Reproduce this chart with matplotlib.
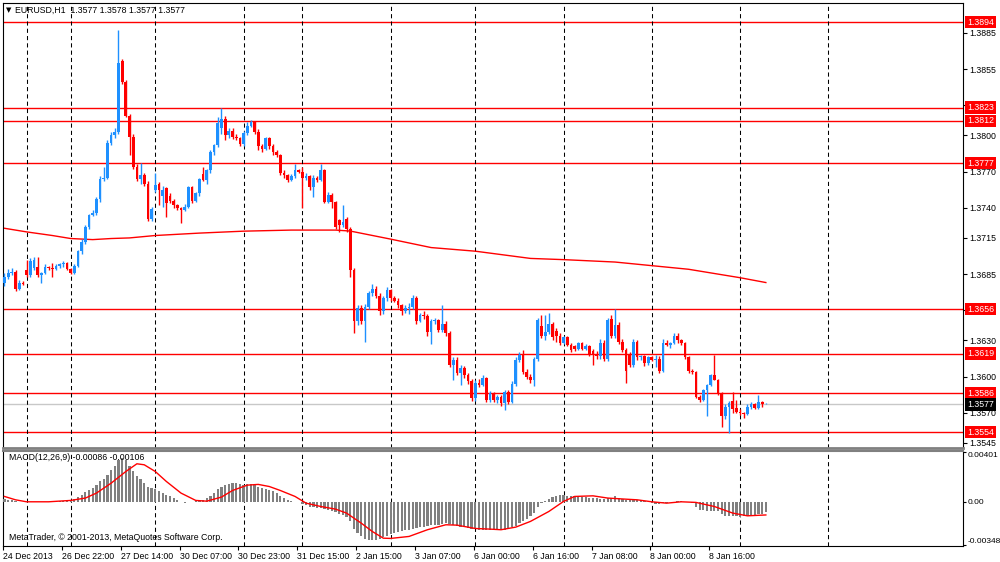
import matplotlib
matplotlib.use("Agg")
import matplotlib.pyplot as plt
import matplotlib.transforms as mtransforms
import numpy as np

plt.rcParams["font.family"] = ["Liberation Sans", "DejaVu Sans"]

SYMBOL = "EURUSD,H1"
LAST_OHLC = [1.3577, 1.3578, 1.3577, 1.3577]

# hourly candles, one per bar, left to right (24 Dec 2013 .. 9 Jan 2014)
OPEN = [
    1.3678, 1.3683, 1.3686, 1.3687, 1.3673, 1.3678, 1.3688, 1.3684, 1.3690, 1.3691,
    1.3684, 1.3686, 1.3691, 1.3690, 1.3689, 1.3692, 1.3693, 1.3694, 1.3689, 1.3686,
    1.3692, 1.3704, 1.3712, 1.3724, 1.3734, 1.3736, 1.3747, 1.3764, 1.3765, 1.3794,
    1.3800, 1.3803, 1.3862, 1.3844, 1.3816, 1.3799, 1.3774, 1.3764, 1.3767, 1.3760,
    1.3731, 1.3755, 1.3760, 1.3750, 1.3756, 1.3750, 1.3746, 1.3742, 1.3740, 1.3738,
    1.3741, 1.3757, 1.3746, 1.3752, 1.3768, 1.3763, 1.3771, 1.3786, 1.3792, 1.3806,
    1.3814, 1.3800, 1.3804, 1.3799, 1.3798, 1.3793, 1.3802, 1.3808, 1.3811, 1.3803,
    1.3791, 1.3789, 1.3798, 1.3791, 1.3786, 1.3784, 1.3769, 1.3767, 1.3763, 1.3766,
    1.3771, 1.3770, 1.3765, 1.3766, 1.3757, 1.3765, 1.3763, 1.3771, 1.3745, 1.3751,
    1.3745, 1.3730, 1.3726, 1.3731, 1.3722, 1.3688, 1.3646, 1.3657, 1.3646, 1.3658,
    1.3669, 1.3673, 1.3667, 1.3654, 1.3665, 1.3672, 1.3665, 1.3663, 1.3659, 1.3654,
    1.3657, 1.3658, 1.3665, 1.3646, 1.3651, 1.3650, 1.3637, 1.3646, 1.3647, 1.3639,
    1.3644, 1.3636, 1.3610, 1.3614, 1.3603, 1.3607, 1.3601, 1.3596, 1.3582, 1.3595,
    1.3593, 1.3599, 1.3581, 1.3586, 1.3581, 1.3583, 1.3578, 1.3587, 1.3579, 1.3594,
    1.3614, 1.3618, 1.3604, 1.3600, 1.3597, 1.3615, 1.3642, 1.3634, 1.3637, 1.3644,
    1.3638, 1.3634, 1.3628, 1.3633, 1.3626, 1.3625, 1.3623, 1.3628, 1.3623, 1.3625,
    1.3621, 1.3618, 1.3617, 1.3628, 1.3615, 1.3648, 1.3634, 1.3643, 1.3629, 1.3622,
    1.3618, 1.3610, 1.3629, 1.3616, 1.3617, 1.3611, 1.3616, 1.3614, 1.3615, 1.3605,
    1.3628, 1.3626, 1.3628, 1.3634, 1.3630, 1.3628, 1.3616, 1.3605, 1.3604, 1.3583,
    1.3581, 1.3589, 1.3593, 1.3601, 1.3597, 1.3586, 1.3567, 1.3575, 1.3580, 1.3574,
    1.3571, 1.3570, 1.3569, 1.3575, 1.3577, 1.3574, 1.3579, 1.3577,
]
HIGH = [
    1.3686, 1.3689, 1.3690, 1.3688, 1.3680, 1.3679, 1.3697, 1.3698, 1.3699, 1.3699,
    1.3687, 1.3693, 1.3692, 1.3694, 1.3693, 1.3694, 1.3696, 1.3695, 1.3690, 1.3693,
    1.3705, 1.3714, 1.3726, 1.3735, 1.3738, 1.3749, 1.3766, 1.3774, 1.3796, 1.3803,
    1.3806, 1.3887, 1.3863, 1.3846, 1.3818, 1.3801, 1.3776, 1.3777, 1.3769, 1.3762,
    1.3741, 1.3769, 1.3761, 1.3758, 1.3757, 1.3752, 1.3747, 1.3743, 1.3741, 1.3743,
    1.3758, 1.3758, 1.3753, 1.3765, 1.3774, 1.3772, 1.3788, 1.3793, 1.3815, 1.3823,
    1.3816, 1.3806, 1.3806, 1.3801, 1.3799, 1.3804, 1.3811, 1.3813, 1.3812, 1.3805,
    1.3793, 1.3799, 1.3799, 1.3793, 1.3788, 1.3785, 1.3771, 1.3768, 1.3768, 1.3776,
    1.3772, 1.3774, 1.3769, 1.3767, 1.3767, 1.3766, 1.3776, 1.3772, 1.3753, 1.3752,
    1.3746, 1.3731, 1.3742, 1.3732, 1.3724, 1.3690, 1.3659, 1.3659, 1.3660, 1.3671,
    1.3677, 1.3675, 1.3669, 1.3667, 1.3674, 1.3673, 1.3667, 1.3665, 1.3660, 1.3659,
    1.3661, 1.3668, 1.3667, 1.3653, 1.3654, 1.3652, 1.3648, 1.3649, 1.3648, 1.3659,
    1.3646, 1.3638, 1.3616, 1.3616, 1.3610, 1.3609, 1.3603, 1.3598, 1.3597, 1.3598,
    1.3601, 1.3600, 1.3588, 1.3587, 1.3585, 1.3585, 1.3589, 1.3589, 1.3596, 1.3616,
    1.3620, 1.3622, 1.3606, 1.3602, 1.3616, 1.3649, 1.3651, 1.3651, 1.3653, 1.3645,
    1.3640, 1.3636, 1.3634, 1.3634, 1.3628, 1.3626, 1.3629, 1.3629, 1.3627, 1.3626,
    1.3623, 1.3621, 1.3631, 1.3630, 1.3649, 1.3651, 1.3656, 1.3645, 1.3631, 1.3624,
    1.3620, 1.3631, 1.3630, 1.3618, 1.3618, 1.3617, 1.3617, 1.3618, 1.3617, 1.3631,
    1.3630, 1.3629, 1.3636, 1.3636, 1.3631, 1.3629, 1.3617, 1.3606, 1.3605, 1.3585,
    1.3590, 1.3594, 1.3602, 1.3618, 1.3598, 1.3587, 1.3577, 1.3580, 1.3587, 1.3581,
    1.3573, 1.3571, 1.3577, 1.3579, 1.3578, 1.3585, 1.3580, 1.3578,
]
LOW = [
    1.3675, 1.3681, 1.3684, 1.3671, 1.3672, 1.3676, 1.3683, 1.3683, 1.3688, 1.3683,
    1.3678, 1.3685, 1.3688, 1.3683, 1.3688, 1.3690, 1.3691, 1.3688, 1.3685, 1.3685,
    1.3691, 1.3702, 1.3710, 1.3722, 1.3733, 1.3734, 1.3745, 1.3762, 1.3764, 1.3792,
    1.3798, 1.3801, 1.3843, 1.3815, 1.3784, 1.3772, 1.3762, 1.3760, 1.3758, 1.3729,
    1.3729, 1.3753, 1.3742, 1.3741, 1.3732, 1.3744, 1.3740, 1.3738, 1.3727, 1.3737,
    1.3740, 1.3744, 1.3745, 1.3750, 1.3762, 1.3760, 1.3769, 1.3784, 1.3790, 1.3801,
    1.3796, 1.3798, 1.3797, 1.3796, 1.3791, 1.3791, 1.3800, 1.3807, 1.3801, 1.3788,
    1.3786, 1.3788, 1.3789, 1.3784, 1.3782, 1.3767, 1.3765, 1.3761, 1.3762, 1.3765,
    1.3769, 1.3740, 1.3763, 1.3755, 1.3749, 1.3761, 1.3762, 1.3744, 1.3744, 1.3740,
    1.3722, 1.3720, 1.3724, 1.3720, 1.3683, 1.3636, 1.3643, 1.3644, 1.3629, 1.3656,
    1.3667, 1.3665, 1.3651, 1.3652, 1.3663, 1.3663, 1.3662, 1.3657, 1.3651, 1.3653,
    1.3652, 1.3656, 1.3644, 1.3645, 1.3648, 1.3634, 1.3627, 1.3644, 1.3637, 1.3637,
    1.3634, 1.3608, 1.3597, 1.3601, 1.3593, 1.3599, 1.3594, 1.3580, 1.3580, 1.3591,
    1.3592, 1.3579, 1.3579, 1.3579, 1.3578, 1.3576, 1.3572, 1.3577, 1.3578, 1.3592,
    1.3612, 1.3602, 1.3598, 1.3595, 1.3592, 1.3613, 1.3632, 1.3630, 1.3635, 1.3630,
    1.3629, 1.3626, 1.3627, 1.3625, 1.3620, 1.3621, 1.3622, 1.3622, 1.3622, 1.3617,
    1.3610, 1.3615, 1.3615, 1.3613, 1.3613, 1.3632, 1.3632, 1.3627, 1.3620, 1.3595,
    1.3608, 1.3608, 1.3614, 1.3614, 1.3609, 1.3610, 1.3613, 1.3608, 1.3603, 1.3604,
    1.3625, 1.3624, 1.3627, 1.3628, 1.3626, 1.3615, 1.3603, 1.3602, 1.3582, 1.3579,
    1.3580, 1.3567, 1.3592, 1.3597, 1.3585, 1.3558, 1.3565, 1.3553, 1.3570, 1.3570,
    1.3568, 1.3566, 1.3568, 1.3573, 1.3573, 1.3573, 1.3575, 1.3577,
]
CLOSE = [
    1.3683, 1.3686, 1.3687, 1.3673, 1.3678, 1.3677, 1.3684, 1.3696, 1.3697, 1.3684,
    1.3686, 1.3691, 1.3690, 1.3689, 1.3692, 1.3693, 1.3694, 1.3689, 1.3686, 1.3692,
    1.3704, 1.3712, 1.3724, 1.3734, 1.3736, 1.3747, 1.3764, 1.3765, 1.3794, 1.3800,
    1.3803, 1.3860, 1.3844, 1.3816, 1.3799, 1.3774, 1.3764, 1.3767, 1.3760, 1.3731,
    1.3739, 1.3759, 1.3755, 1.3755, 1.3744, 1.3746, 1.3742, 1.3740, 1.3738, 1.3741,
    1.3757, 1.3746, 1.3752, 1.3764, 1.3763, 1.3771, 1.3786, 1.3792, 1.3810, 1.3814,
    1.3800, 1.3804, 1.3799, 1.3798, 1.3793, 1.3802, 1.3808, 1.3811, 1.3803, 1.3791,
    1.3789, 1.3798, 1.3791, 1.3786, 1.3784, 1.3769, 1.3767, 1.3763, 1.3766, 1.3771,
    1.3770, 1.3765, 1.3766, 1.3757, 1.3765, 1.3763, 1.3771, 1.3745, 1.3751, 1.3745,
    1.3724, 1.3726, 1.3728, 1.3722, 1.3688, 1.3646, 1.3657, 1.3646, 1.3658, 1.3669,
    1.3673, 1.3667, 1.3654, 1.3665, 1.3672, 1.3665, 1.3663, 1.3659, 1.3654, 1.3657,
    1.3658, 1.3665, 1.3646, 1.3651, 1.3650, 1.3637, 1.3646, 1.3647, 1.3639, 1.3644,
    1.3636, 1.3610, 1.3614, 1.3603, 1.3607, 1.3601, 1.3596, 1.3582, 1.3595, 1.3593,
    1.3599, 1.3581, 1.3586, 1.3581, 1.3583, 1.3578, 1.3587, 1.3579, 1.3594, 1.3614,
    1.3618, 1.3604, 1.3600, 1.3597, 1.3615, 1.3647, 1.3634, 1.3637, 1.3644, 1.3633,
    1.3634, 1.3628, 1.3633, 1.3626, 1.3622, 1.3623, 1.3628, 1.3623, 1.3625, 1.3619,
    1.3618, 1.3617, 1.3628, 1.3615, 1.3647, 1.3634, 1.3643, 1.3629, 1.3622, 1.3605,
    1.3610, 1.3629, 1.3616, 1.3617, 1.3611, 1.3616, 1.3614, 1.3615, 1.3605, 1.3628,
    1.3626, 1.3628, 1.3634, 1.3630, 1.3628, 1.3616, 1.3605, 1.3604, 1.3583, 1.3581,
    1.3589, 1.3593, 1.3601, 1.3597, 1.3586, 1.3567, 1.3575, 1.3578, 1.3573, 1.3571,
    1.3570, 1.3569, 1.3575, 1.3577, 1.3574, 1.3579, 1.3577, 1.3577,
]

# long moving average (red line), read at these bars
MA_BARS = [0, 6, 13, 18, 24, 29, 34, 41, 53, 65, 78, 90, 94, 105, 116, 128,
           143, 152, 166, 176, 186, 200, 207]
MA_VALUES = [1.3723, 1.3720, 1.3717, 1.37145, 1.37136, 1.37145, 1.3715, 1.3717,
             1.3719, 1.37206, 1.37215, 1.37215, 1.37207, 1.3714, 1.3707, 1.3704,
             1.3698, 1.3697, 1.3695, 1.3692, 1.3689, 1.3682, 1.3678]

LEVELS = [1.3894, 1.3823, 1.3812, 1.3777, 1.3656, 1.3619, 1.3586, 1.3554]
PRICE_TICKS = [1.3885, 1.3855, 1.3825, 1.3800, 1.3770, 1.3740, 1.3715, 1.3685,
               1.3655, 1.3630, 1.3600, 1.3570, 1.3545]

# first bar of each day (period separators)
DAY_STARTS = [6, 18, 41, 65, 81, 105, 128, 152, 176, 200, 224]

TIME_TICK_BARS = [0, 16, 32, 48, 64, 80, 96, 112, 128, 144, 160, 176, 192]
TIME_LABELS = ["24 Dec 2013", "26 Dec 22:00", "27 Dec 14:00", "30 Dec 07:00",
               "30 Dec 23:00", "31 Dec 15:00", "2 Jan 15:00", "3 Jan 07:00",
               "6 Jan 00:00", "6 Jan 16:00", "7 Jan 08:00", "8 Jan 00:00",
               "8 Jan 16:00"]

MACD_HIST = [
    0.00020, 0.00016, 0.00012, 0.00006, 0.00002, 0.00000, -0.00002, -0.00001, 0.00000, -0.00002,
    -0.00003, -0.00002, 0.00000, 0.00003, 0.00006, 0.00008, 0.00010, 0.00011, 0.00016, 0.00021,
    0.00038, 0.00056, 0.00075, 0.00091, 0.00110, 0.00137, 0.00164, 0.00183, 0.00217, 0.00252,
    0.00290, 0.00338, 0.00352, 0.00333, 0.00290, 0.00244, 0.00209, 0.00183, 0.00150, 0.00123,
    0.00110, 0.00102, 0.00083, 0.00070, 0.00056, 0.00043, 0.00030, 0.00016, 0.00000, -0.00011,
    -0.00005, -0.00003, 0.00003, 0.00011, 0.00016, 0.00027, 0.00048, 0.00070, 0.00102, 0.00123,
    0.00137, 0.00145, 0.00150, 0.00150, 0.00145, 0.00137, 0.00140, 0.00142, 0.00134, 0.00123,
    0.00110, 0.00102, 0.00097, 0.00083, 0.00070, 0.00048, 0.00030, 0.00016, 0.00003, 0.00000,
    -0.00005, -0.00019, -0.00027, -0.00038, -0.00043, -0.00048, -0.00051, -0.00059, -0.00070, -0.00078,
    -0.00086, -0.00097, -0.00105, -0.00124, -0.00158, -0.00220, -0.00252, -0.00279, -0.00301, -0.00311,
    -0.00311, -0.00306, -0.00301, -0.00287, -0.00274, -0.00263, -0.00252, -0.00247, -0.00239, -0.00231,
    -0.00225, -0.00220, -0.00215, -0.00204, -0.00199, -0.00193, -0.00188, -0.00185, -0.00183, -0.00177,
    -0.00172, -0.00177, -0.00188, -0.00193, -0.00199, -0.00204, -0.00209, -0.00217, -0.00220, -0.00225,
    -0.00225, -0.00228, -0.00231, -0.00231, -0.00231, -0.00231, -0.00225, -0.00220, -0.00204, -0.00193,
    -0.00172, -0.00158, -0.00140, -0.00113, -0.00091, -0.00038, -0.00011, 0.00003, 0.00021, 0.00038,
    0.00048, 0.00054, 0.00054, 0.00048, 0.00048, 0.00043, 0.00043, 0.00038, 0.00038, 0.00032,
    0.00027, 0.00027, 0.00021, 0.00021, 0.00027, 0.00032, 0.00043, 0.00032, 0.00021, 0.00011,
    0.00011, 0.00016, 0.00011, 0.00011, 0.00005, 0.00000, -0.00011, -0.00016, -0.00021, -0.00011,
    -0.00011, -0.00005, 0.00000, 0.00005, 0.00008, 0.00000, -0.00005, -0.00011, -0.00038, -0.00064,
    -0.00070, -0.00078, -0.00078, -0.00073, -0.00078, -0.00097, -0.00113, -0.00118, -0.00118, -0.00118,
    -0.00124, -0.00118, -0.00113, -0.00107, -0.00105, -0.00102, -0.00097, -0.00086,
]

SIGNAL_BARS = [0, 3, 6, 12, 18, 22, 25, 29, 33, 36, 38, 41, 44, 48, 52, 55, 59, 62,
               66, 69, 72, 75, 79, 82, 86, 90, 93, 97, 100, 103, 105, 110, 115, 120,
               123, 128, 132, 135, 139, 143, 148, 152, 155, 160, 164, 169, 172, 176,
               180, 184, 188, 193, 198, 202, 207]
SIGNAL_VALUES = [0.00043, 0.00016, 0.0, 0.0, 0.00011, 0.00030, 0.00070, 0.00150,
                 0.00244, 0.00306, 0.00298, 0.00244, 0.00164, 0.00070, 0.00011,
                 0.00005, 0.00038, 0.00091, 0.00134, 0.00140, 0.00123, 0.00091,
                 0.00043, -0.00011, -0.00038, -0.00059, -0.00091, -0.00172, -0.00239,
                 -0.00293, -0.00295, -0.00279, -0.00225, -0.00185, -0.00188, -0.00215,
                 -0.00220, -0.00225, -0.00204, -0.00158, -0.00078, 0.00003, 0.00043,
                 0.00048, 0.00030, 0.00021, 0.00016, 0.0, -0.00011, 0.0, -0.00005,
                 -0.00038, -0.00091, -0.00113, -0.00106]

MACD_MAIN_LAST = -0.00086
MACD_SIGNAL_LAST = -0.00106
MACD_SCALE = [0.00401, 0.0, -0.00348]

BULL = "#1E90FF"
BEAR = "#FF0000"
FS = 6.3
W, H = 1000, 562

fig = plt.figure(figsize=(W / 100, H / 100), dpi=100)
ax = fig.add_axes([3 / W, 1 - 448 / H, 960 / W, 445 / H])
axm = fig.add_axes([3 / W, 1 - 546 / H, 960 / W, 95 / H], sharex=ax)

o, h, l, c = (np.array(a) for a in (OPEN, HIGH, LOW, CLOSE))
bars = np.arange(len(c))
col = np.where(c >= o, BULL, BEAR)

# ---- price panel ----
for lvl in LEVELS:
    ax.axhline(lvl, color="red", lw=1, zorder=1)
ax.axhline(LAST_OHLC[3], color="#C8C8C8", lw=1, zorder=1)
for d in DAY_STARTS:
    ax.axvline(d, color="black", lw=0.75, ls=(0, (4, 3)), zorder=1)
    axm.axvline(d, color="black", lw=0.75, ls=(0, (4, 3)), zorder=1)

ax.vlines(bars, l, h, colors=col, lw=1, zorder=3)
ax.bar(bars, np.maximum(np.abs(c - o), 0.00003), bottom=np.minimum(o, c),
       width=0.74, color=col, lw=0, zorder=3)
ax.plot(MA_BARS, MA_VALUES, color="red", lw=1, zorder=2)

ax.set_xlim(-0.3, 260.6)
ax.set_ylim(1.35408, 1.39098)
ax.yaxis.tick_right()
ax.set_yticks(PRICE_TICKS)
ax.set_yticklabels([f"{v:.4f}" for v in PRICE_TICKS])
ax.tick_params(axis="y", direction="out", length=3, width=0.8, pad=1.5, labelsize=FS)
ax.tick_params(axis="x", bottom=False, labelbottom=False)
for s in ax.spines.values():
    s.set_color("black")
    s.set_linewidth(0.8)
ax.spines["bottom"].set_color("#808080")
ax.spines["bottom"].set_linewidth(2)

blend = mtransforms.blended_transform_factory(ax.transAxes, ax.transData)
box_x = 1.0 + 4 / 960
for lvl in LEVELS:
    ax.text(box_x, lvl, f"{lvl:.4f}", transform=blend, color="white", fontsize=FS,
            ha="left", va="center", zorder=10, clip_on=False,
            bbox=dict(boxstyle="square,pad=0.2", fc="red", ec="none"))
ax.text(box_x, LAST_OHLC[3], f"{LAST_OHLC[3]:.4f}", transform=blend, color="white",
        fontsize=FS, ha="left", va="center", zorder=11, clip_on=False,
        bbox=dict(boxstyle="square,pad=0.2", fc="black", ec="none"))

fig.text(6 / W, 1 - 10 / H, "\u25BC", fontsize=5, va="center", ha="left",
         family=["DejaVu Sans"])
fig.text(15 / W, 1 - 10 / H,
         SYMBOL + "  " + " ".join(f"{v:.4f}" for v in LAST_OHLC),
         fontsize=FS, va="center", ha="left")

# ---- MACD panel ----
axm.bar(bars, MACD_HIST, width=0.6, color="#808080", lw=0, zorder=3)
axm.plot(SIGNAL_BARS, SIGNAL_VALUES, color="red", lw=1, zorder=4)
axm.set_ylim(-0.00356, 0.00409)
axm.yaxis.tick_right()
axm.set_yticks(MACD_SCALE)
axm.set_yticklabels(["0.00401", "0.00", "-0.00348"])
axm.tick_params(axis="y", direction="out", length=2, width=0.8, pad=1, labelsize=FS - 0.3)
ylabels = axm.get_yticklabels()
ylabels[0].set_va("top")
ylabels[2].set_va("bottom")
axm.set_xticks(np.array(TIME_TICK_BARS) - 0.4)
axm.set_xticklabels(TIME_LABELS)
axm.tick_params(axis="x", direction="out", length=3, width=0.8, pad=1.5, labelsize=FS)
for lbl in axm.get_xticklabels():
    lbl.set_ha("left")
for s in axm.spines.values():
    s.set_color("black")
    s.set_linewidth(0.8)
axm.spines["top"].set_color("#808080")
axm.spines["top"].set_linewidth(1.5)

axm.text(6 / 960, 0.93, f"MACD(12,26,9) {MACD_MAIN_LAST:.5f} {MACD_SIGNAL_LAST:.5f}",
         transform=axm.transAxes, fontsize=FS, va="center", ha="left", zorder=6)
axm.text(6 / 960, 0.09, "MetaTrader, \u00A9 2001-2013, MetaQuotes Software Corp.",
         transform=axm.transAxes, fontsize=FS, va="center", ha="left", zorder=6)

fig.savefig("out.png", dpi=100)
